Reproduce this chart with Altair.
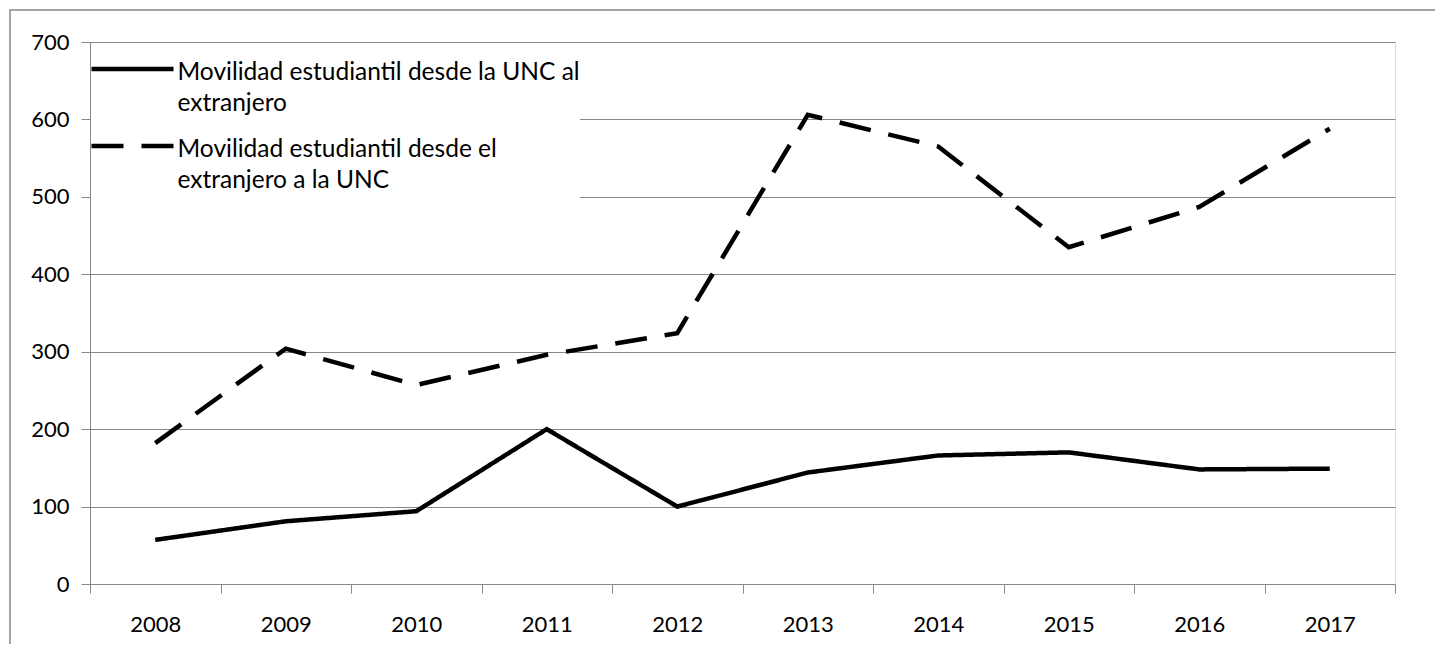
import altair as alt
import pandas as pd

years = ["2008", "2009", "2010", "2011", "2012", "2013", "2014", "2015", "2016", "2017"]
serie_salida = [57, 81, 94, 200, 100, 144, 166, 170, 148, 149]
serie_entrada = [182, 304, 257, 296, 324, 606, 565, 435, 487, 588]
name_salida = "Movilidad estudiantil desde la UNC al extranjero"
name_entrada = "Movilidad estudiantil desde el extranjero a la UNC"

rows = []
for y, v in zip(years, serie_salida):
    rows.append({"year": y, "value": v, "serie": name_salida})
for y, v in zip(years, serie_entrada):
    rows.append({"year": y, "value": v, "serie": name_entrada})
df = pd.DataFrame(rows)

FONT = "Lato"
W, H = 1305, 542
GRID = "#878787"
DY = -8

label_expr = (
    "datum.label == '" + name_salida + "' ? ['Movilidad estudiantil desde la UNC al  ', 'extranjero'] : "
    "['Movilidad estudiantil desde el', 'extranjero a la UNC', '']"
)

lines = alt.Chart(df).mark_line(strokeWidth=4.5, color="black", strokeJoin="miter").encode(
    x=alt.X(
        "year:N",
        sort=years,
        scale=alt.Scale(type="band", paddingInner=0, paddingOuter=0),
        axis=alt.Axis(
            title=None, labelAngle=0, tickBand="extent", grid=False,
            domainColor=GRID, tickColor=GRID, tickSize=9,
            labelFont=FONT, labelFontSize=22, labelColor="black", labelPadding=21 - DY,
        ),
    ),
    y=alt.Y(
        "value:Q",
        scale=alt.Scale(domain=[0, 700], nice=False),
        axis=alt.Axis(
            title=None, values=[0, 100, 200, 300, 400, 500, 600, 700],
            grid=True, gridColor=GRID, gridWidth=1, domainColor=GRID, tickColor=GRID,
            tickSize=9, labelFont=FONT, labelFontSize=22, labelColor="black", labelPadding=12,
            labelOffset=-DY,
        ),
    ),
    strokeDash=alt.StrokeDash(
        "serie:N",
        scale=alt.Scale(domain=[name_salida, name_entrada], range=[[1, 0], [32, 18]]),
        legend=alt.Legend(
            orient="none", legendX=1, legendY=4, title=None,
            fillColor="white", padding=0, symbolType="M-2,0H2",
            symbolSize=1681, symbolOffset=18.5, symbolStrokeWidth=4.5,
            symbolStrokeColor="black", symbolFillColor="transparent",
            labelFont=FONT, labelFontSize=24.5, labelColor="black", labelLimit=0,
            labelOffset=22, labelBaseline="top", labelExpr=label_expr, rowPadding=7,
        ),
    ),
    order=alt.Order("year:N"),
)

border = alt.Chart(pd.DataFrame({"a": [0]})).mark_rect(
    fill="transparent", stroke=GRID, strokeWidth=1.5, clip=False
).encode(
    x=alt.value(-80), x2=alt.value(W + 200), y=alt.value(-32), y2=alt.value(H + 200)
)

chart = alt.layer(border, lines).properties(
    width=W, height=H,
    autosize=alt.AutoSizeParams(type="none"),
    padding={"left": 82, "top": 34, "right": 40, "bottom": 60},
).configure_view(stroke=None).configure(
    style={"guide-label": {"lineHeight": 31, "dy": DY}}
)

chart.save("out.html", embed_options={"renderer": "svg", "actions": False})
